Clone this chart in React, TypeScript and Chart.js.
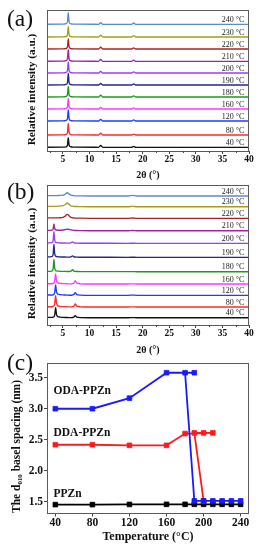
import React, { useEffect, useRef } from 'react';
import { Chart, registerables } from 'chart.js';

Chart.register(...registerables);

const SERIF = "'Liberation Serif', 'Times New Roman', serif";

// ---------- shared ----------
const TEMPS = ['40 °C', '80 °C', '120 °C', '160 °C', '180 °C', '190 °C', '200 °C', '210 °C', '220 °C', '230 °C', '240 °C'];
const COLORS = ['#111111', '#ff2a2a', '#1f3cff', '#ff38ff', '#1d9a1d', '#26268f', '#9a3cff', '#a322a3', '#a82424', '#a89c1c', '#5b8ccc'];
const XRD_TICKS = [5, 10, 15, 20, 25, 30, 35, 40];
const XRD_MINOR = [2.5, 7.5, 12.5, 17.5, 22.5, 27.5, 32.5, 37.5];
const LABEL_X = 39.1;

// ---------- panel (a) ----------
const A_X = [2, 5.0, 5.6, 5.85, 6.0, 6.15, 6.4, 7.0, 11.7, 12.1, 12.5, 17.9, 18.3, 18.7, 40];
const A_BASE = [3.7, 16, 30, 42, 54, 66, 78, 89.7, 102, 114, 126.7];
const A_40 = [0, 0.1, 0.5, 2.0, 9.7, 2.4, 0.6, 0.1, 0, 1.8, 0, 0, 0.9, 0, 0];
const A_80 = [0, 0.1, 0.6, 2.4, 11.7, 2.8, 0.7, 0.1, 0, 1.8, 0, 0, 0.6, 0, 0];
const A_120 = [0, 0.1, 0.6, 2.3, 11.0, 2.6, 0.6, 0.1, 0, 1.6, 0, 0, 1.2, 0, 0];
const A_160 = [0, 0.1, 0.6, 2.2, 10.7, 2.5, 0.6, 0.1, 0, 1.5, 0, 0, 1.2, 0, 0];
const A_180 = [0, 0.1, 0.6, 2.2, 10.7, 2.5, 0.6, 0.1, 0, 1.8, 0, 0, 1.2, 0, 0];
const A_190 = [0, 0.1, 0.6, 2.4, 11.7, 2.7, 0.6, 0.1, 0, 1.5, 0, 0, 1.0, 0, 0];
const A_200 = [0, 0.1, 0.6, 2.3, 11.0, 2.6, 0.6, 0.1, 0, 1.6, 0, 0, 1.2, 0, 0];
const A_210 = [0, 0.1, 0.6, 2.4, 11.7, 2.7, 0.6, 0.1, 0, 1.8, 0, 0, 1.2, 0, 0];
const A_220 = [0, 0.1, 0.5, 2.1, 10.0, 2.4, 0.6, 0.1, 0, 1.8, 0, 0, 1.2, 0, 0];
const A_230 = [0, 0.1, 0.5, 2.1, 10.3, 2.4, 0.6, 0.1, 0, 1.8, 0, 0, 1.4, 0, 0];
const A_240 = [0, 0.1, 0.6, 2.4, 11.7, 2.7, 0.6, 0.1, 0, 1.7, 0, 0, 1.3, 0, 0];
const A_CURVES = [A_40, A_80, A_120, A_160, A_180, A_190, A_200, A_210, A_220, A_230, A_240];

// ---------- panel (b) ----------
const B_X = [2, 2.9, 3.15, 3.3, 3.45, 3.62, 3.8, 4.2, 5.0, 5.4, 5.8, 6.2, 6.5, 6.8, 7.05, 7.3, 7.6, 8.3, 10, 17.3, 18.1, 18.9, 40];
const B_BASE = [7.3, 18, 29.7, 41, 53.3, 67.7, 81.7, 94.3, 106.7, 118.3, 129];
const B_40 = [0.3, 0.3, 0.5, 0.9, 2.5, 10.0, 3.0, 0.8, 0.3, 0.2, 0.2, 0.1, 0.1, 0.2, 0.5, 2.0, 0.5, 0.1, 0, 0, 0.1, 0, 0];
const B_80 = [0.3, 0.3, 0.5, 1.0, 3.0, 11.3, 3.4, 0.9, 0.4, 0.3, 0.2, 0.1, 0.1, 0.3, 0.8, 3.0, 0.8, 0.2, 0, 0, 0.2, 0, 0];
const B_120 = [0.3, 0.3, 0.5, 1.0, 2.8, 10.3, 3.1, 0.9, 0.4, 0.3, 0.2, 0.1, 0.1, 0.3, 0.7, 2.7, 0.7, 0.2, 0, 0, 0.2, 0, 0];
const B_160 = [0.3, 0.3, 0.5, 1.0, 2.8, 10.0, 3.0, 0.9, 0.4, 0.3, 0.2, 0.1, 0.1, 0.3, 0.9, 3.3, 0.8, 0.2, 0, 0, 0.2, 0, 0];
const B_180 = [0.3, 0.6, 2.5, 12.3, 3.5, 1.2, 0.8, 0.5, 0.3, 0.3, 0.2, 0.2, 0.5, 2.0, 0.6, 0.3, 0.2, 0.1, 0.1, 0, 0.1, 0, 0];
const B_190 = [0.3, 0.6, 2.6, 13.0, 3.6, 1.2, 0.8, 0.5, 0.3, 0.3, 0.2, 0.2, 0.4, 1.5, 0.5, 0.3, 0.2, 0.1, 0.1, 0, 0.1, 0, 0];
const B_200 = [0.3, 0.6, 2.4, 11.7, 3.3, 1.1, 0.8, 0.5, 0.3, 0.3, 0.2, 0.2, 0.4, 1.5, 0.5, 0.3, 0.2, 0.1, 0.1, 0, 0.1, 0, 0];
const B_210 = [0.3, 0.5, 1.7, 6.7, 2.4, 1.0, 0.7, 0.5, 0.7, 1.1, 1.5, 1.2, 0.8, 0.5, 0.3, 0.2, 0.2, 0.1, 0, 0, 0.2, 0, 0];
const B_220 = [0.4, 0.4, 0.4, 0.4, 0.4, 0.4, 0.4, 0.5, 1.0, 2.0, 4.0, 2.3, 1.0, 0.5, 0.3, 0.2, 0.2, 0.1, 0, 0, 0.3, 0, 0];
const B_230 = [0.4, 0.4, 0.4, 0.4, 0.4, 0.4, 0.4, 0.5, 1.0, 1.9, 3.7, 2.1, 0.9, 0.5, 0.3, 0.2, 0.2, 0.1, 0, 0, 0.4, 0, 0];
const B_240 = [0.4, 0.4, 0.4, 0.4, 0.4, 0.4, 0.4, 0.5, 0.9, 1.7, 3.3, 1.9, 0.9, 0.5, 0.3, 0.2, 0.2, 0.1, 0, 0, 0.6, 0, 0];
const B_CURVES = [B_40, B_80, B_120, B_160, B_180, B_190, B_200, B_210, B_220, B_230, B_240];

// ---------- panel (c) ----------
const C_XTICKS = [40, 80, 120, 160, 200, 240];
const C_YTICKS = [1.5, 2.0, 2.5, 3.0, 3.5];
const ODA_X = [40, 80, 120, 160, 190, 180, 190, 200, 210, 220, 230, 240];
const ODA_Y = [3.0, 3.0, 3.17, 3.58, 3.58, 3.58, 1.515, 1.515, 1.515, 1.515, 1.515, 1.515];
const DDA_X = [40, 80, 120, 160, 180, 210, 200, 190, 200];
const DDA_Y = [2.42, 2.42, 2.41, 2.41, 2.6, 2.61, 2.61, 2.61, 1.515];
const PPZN_X = [40, 80, 120, 160, 180, 190, 200, 210, 220, 230, 240];
const PPZN_Y = [1.455, 1.455, 1.458, 1.46, 1.46, 1.46, 1.46, 1.46, 1.46, 1.46, 1.46];
const C_NAMES = ['ODA-PPZn', 'DDA-PPZn', 'PPZn'];
const C_LABEL_POS = [[38, 3.28], [38, 2.604], [38, 1.62]];

// ---------- helpers ----------
const fixW = (w: number) => (s: any) => {
  s.width = w;
  s.paddingTop = 0; s.paddingBottom = 0; s.paddingLeft = 0; s.paddingRight = 0;
};
const fixH = (h: number) => (s: any) => {
  s.height = h;
  s.paddingTop = 0; s.paddingBottom = 0; s.paddingLeft = 0; s.paddingRight = 0;
};

const framePlugin = {
  id: 'frame',
  afterDraw(chart: any) {
    const { ctx, chartArea: a } = chart;
    ctx.save();
    ctx.strokeStyle = '#5a5a5a';
    ctx.lineWidth = 1;
    ctx.strokeRect(Math.round(a.left) + 0.5, Math.round(a.top) + 0.5, Math.round(a.right - a.left) - 1, Math.round(a.bottom - a.top));
    ctx.restore();
  },
};

const minorTickPlugin = (vals: number[]) => ({
  id: 'minorTicks',
  afterDraw(chart: any) {
    const { ctx, chartArea: a } = chart;
    const xs = chart.scales.x;
    ctx.save();
    ctx.strokeStyle = '#444';
    ctx.lineWidth = 1;
    vals.forEach((v) => {
      const px = Math.round(xs.getPixelForValue(v)) + 0.5;
      ctx.beginPath();
      ctx.moveTo(px, a.bottom);
      ctx.lineTo(px, a.bottom + 2);
      ctx.stroke();
    });
    ctx.restore();
  },
});

const tempLabelPlugin = (base: number[]) => ({
  id: 'tempLabels',
  afterDraw(chart: any) {
    const { ctx } = chart;
    const xs = chart.scales.x;
    const ys = chart.scales.y;
    ctx.save();
    ctx.font = `8px ${SERIF}`;
    ctx.fillStyle = '#222';
    ctx.textAlign = 'right';
    ctx.textBaseline = 'bottom';
    TEMPS.forEach((t, k) => {
      ctx.fillText(t, xs.getPixelForValue(LABEL_X), ys.getPixelForValue(base[k]) - 0.5);
    });
    ctx.restore();
  },
});

const seriesLabelPlugin = {
  id: 'seriesLabels',
  afterDraw(chart: any) {
    const { ctx } = chart;
    const xs = chart.scales.x;
    const ys = chart.scales.y;
    ctx.save();
    ctx.font = `bold 11.5px ${SERIF}`;
    ctx.fillStyle = '#111';
    ctx.textAlign = 'left';
    ctx.textBaseline = 'middle';
    C_NAMES.forEach((n, k) => {
      ctx.fillText(n, xs.getPixelForValue(C_LABEL_POS[k][0]), ys.getPixelForValue(C_LABEL_POS[k][1]));
    });
    ctx.restore();
  },
};

function xrdConfig(xs: number[], base: number[], curves: number[][], yMax: number, padTop: number, xAxisH: number, xTitlePad: number) {
  return {
    type: 'line',
    data: {
      datasets: curves.map((c, k) => ({
        data: xs.map((x, i) => ({ x, y: base[k] + c[i] })),
        borderColor: COLORS[k],
        borderWidth: 1.35,
        pointRadius: 0,
        cubicInterpolationMode: 'monotone',
        fill: false,
      })),
    },
    options: {
      animation: false,
      responsive: false,
      devicePixelRatio: 1,
      events: [],
      layout: { padding: { top: padTop, right: 27, left: 0, bottom: 0 } },
      plugins: { legend: { display: false }, tooltip: { enabled: false } },
      scales: {
        x: {
          type: 'linear',
          min: 2,
          max: 40,
          afterBuildTicks: (s: any) => { s.ticks = XRD_TICKS.map((v) => ({ value: v })); },
          ticks: { font: { family: SERIF, size: 9.5, weight: 'bold', lineHeight: 1 }, color: '#111', padding: 1, maxRotation: 0, autoSkip: false },
          grid: { drawOnChartArea: false, drawTicks: true, tickLength: 3, tickColor: '#444' },
          border: { display: false },
          title: { display: true, text: '2θ (°)', color: '#111', font: { family: SERIF, size: 10, weight: 'bold', lineHeight: 1.2 }, padding: { top: 0, bottom: xTitlePad } },
          afterFit: fixH(xAxisH),
        },
        y: {
          type: 'linear',
          min: 0,
          max: yMax,
          ticks: { display: false },
          grid: { display: false },
          border: { display: false },
          title: { display: true, text: '\u2002Relative intensity (a.u.)', align: 'start', color: '#111', font: { family: SERIF, size: 11.3, weight: 'bold', lineHeight: 1.2 }, padding: { top: 25.2, bottom: 0 } },
          afterFit: fixW(47),
        },
      },
    },
    plugins: [framePlugin, minorTickPlugin(XRD_MINOR), tempLabelPlugin(base)],
  };
}

function cConfig() {
  const mk = (xs: number[], ys: number[], color: string) => ({
    data: xs.map((x, i) => ({ x, y: ys[i] })),
    borderColor: color,
    backgroundColor: color,
    borderWidth: 1.8,
    pointStyle: 'rect',
    pointRadius: 3.3,
    pointBorderWidth: 0.8,
    tension: 0,
    fill: false,
  });
  return {
    type: 'line',
    data: {
      datasets: [mk(ODA_X, ODA_Y, '#1a1aff'), mk(DDA_X, DDA_Y, '#ff1a1a'), mk(PPZN_X, PPZN_Y, '#000000')],
    },
    options: {
      animation: false,
      responsive: false,
      devicePixelRatio: 1,
      events: [],
      layout: { padding: { top: 4, right: 27, left: 0, bottom: 0 } },
      plugins: { legend: { display: false }, tooltip: { enabled: false } },
      scales: {
        x: {
          type: 'linear',
          min: 31,
          max: 249,
          afterBuildTicks: (s: any) => { s.ticks = C_XTICKS.map((v) => ({ value: v })); },
          ticks: { font: { family: SERIF, size: 11.5, weight: 'bold', lineHeight: 1 }, color: '#111', padding: 1, maxRotation: 0, autoSkip: false },
          grid: { drawOnChartArea: false, drawTicks: true, tickLength: 3.5, tickColor: '#444' },
          border: { display: false },
          title: { display: true, text: 'Temperature (°C)', color: '#111', font: { family: SERIF, size: 12, weight: 'bold', lineHeight: 1.2 }, padding: { top: 0, bottom: 5.8 } },
          afterFit: fixH(37),
        },
        y: {
          type: 'linear',
          min: 1.32,
          max: 3.74,
          afterBuildTicks: (s: any) => { s.ticks = C_YTICKS.map((v) => ({ value: v })); },
          ticks: { callback: (v: any) => Number(v).toFixed(1), font: { family: SERIF, size: 11.5, weight: 'bold', lineHeight: 1 }, color: '#111', padding: 1, autoSkip: false },
          grid: { drawOnChartArea: false, drawTicks: true, tickLength: 3, tickColor: '#444' },
          border: { display: false },
          title: { display: true, text: 'The d₀₁₀ basel spacing (nm)', align: 'start', color: '#111', font: { family: SERIF, size: 11.5, weight: 'bold', lineHeight: 1.2 }, padding: { top: 10, bottom: 0 } },
          afterFit: fixW(47),
        },
      },
    },
    plugins: [framePlugin, seriesLabelPlugin],
  };
}

function ChartBox({ top, height, build }: { top: number; height: number; build: () => any }) {
  const ref = useRef<HTMLCanvasElement>(null);
  useEffect(() => {
    const chart = new Chart(ref.current as HTMLCanvasElement, build());
    return () => chart.destroy();
  }, []);
  return <canvas ref={ref} width={276} height={height} style={{ position: 'absolute', left: 0, top, width: 276, height, display: 'block' }} />;
}

const panelLabel = (top: number): React.CSSProperties => ({
  position: 'absolute',
  left: 7,
  top,
  fontFamily: SERIF,
  fontSize: 23.5,
  lineHeight: '23px',
  color: '#111',
  whiteSpace: 'nowrap',
});

export default function App() {
  return (
    <div style={{ position: 'absolute', left: 0, top: 0, width: 276, height: 550, background: '#fff', overflow: 'hidden' }}>
      <ChartBox top={0} height={182} build={() => xrdConfig(A_X, A_BASE, A_CURVES, 141, 10, 31, 1)} />
      <ChartBox top={182} height={176} build={() => xrdConfig(B_X, B_BASE, B_CURVES, 140, 3, 33, 2)} />
      <ChartBox top={358} height={192} build={cConfig} />
      <div style={panelLabel(6.5)}>(a)</div>
      <div style={panelLabel(180)}>(b)</div>
      <div style={panelLabel(351)}>(c)</div>
    </div>
  );
}
